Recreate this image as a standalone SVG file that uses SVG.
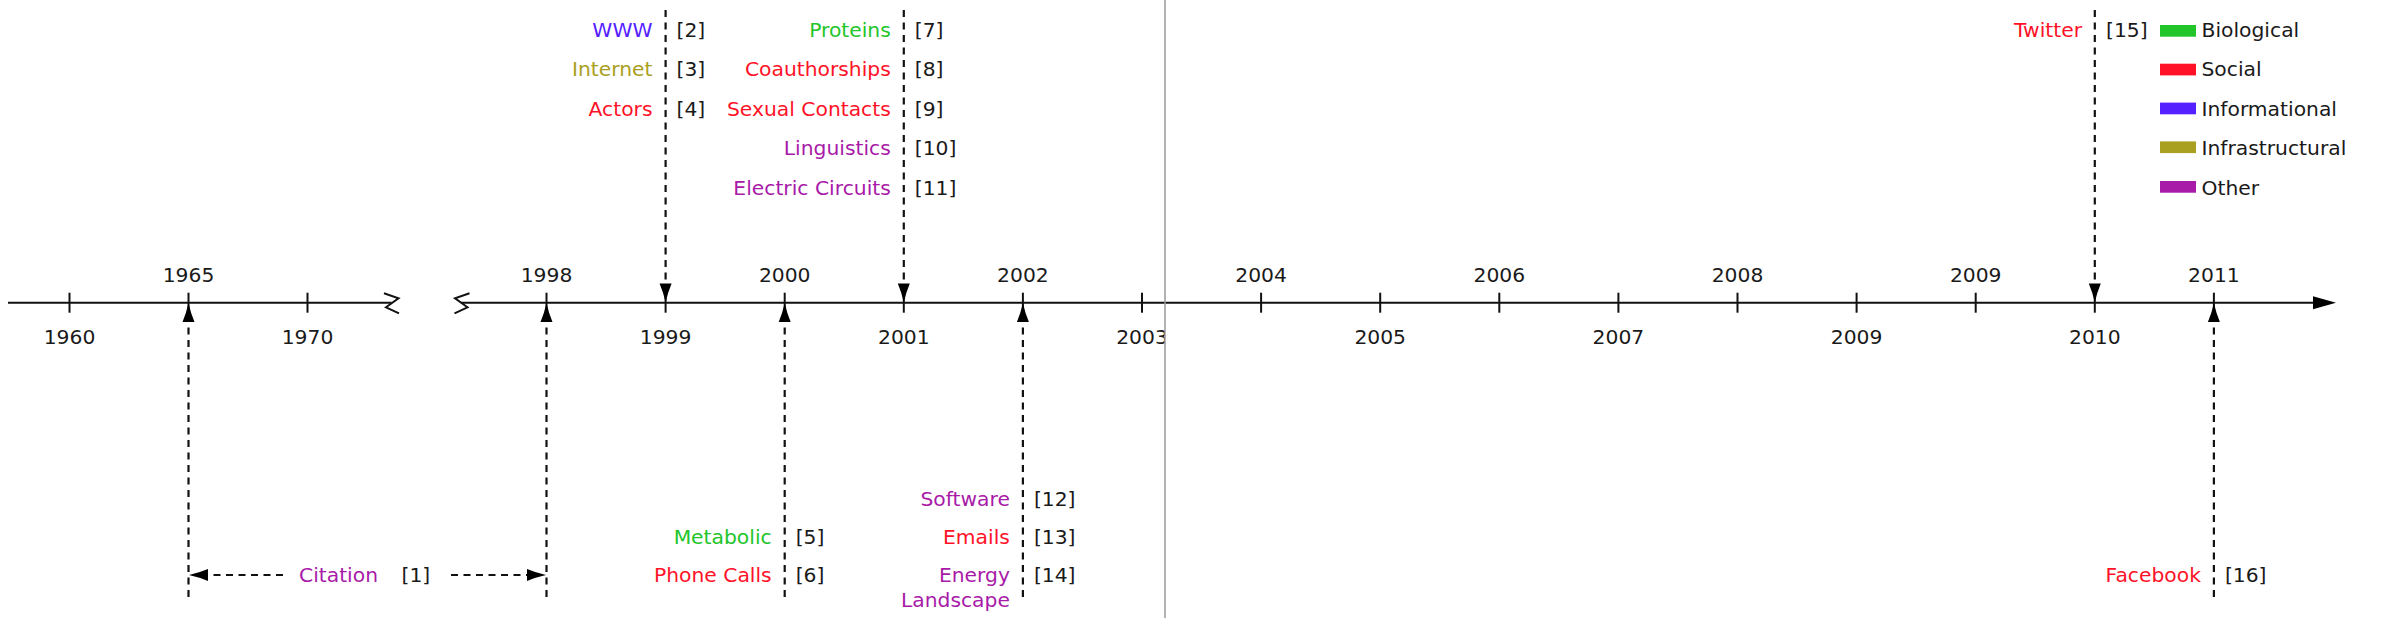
<svg xmlns="http://www.w3.org/2000/svg" width="2384" height="618" viewBox="0 0 2384 618">
<style>
text{font-family:"DejaVu Sans","Verdana",sans-serif;font-size:20.3px;fill:#1a1a1a}
.e{text-anchor:end}
.m{text-anchor:middle}
.bio{fill:#22c52a}
.soc{fill:#ff1228}
.inf{fill:#5522ff}
.str{fill:#a9a022}
.oth{fill:#a81aa8}
.axis{stroke:#111;stroke-width:2;fill:none}
.dash{stroke:#111;stroke-width:2.2;stroke-dasharray:7 5.5;fill:none;marker-end:url(#ah)}
</style>
<defs>
<marker id="ah" markerUnits="userSpaceOnUse" markerWidth="22" markerHeight="14" viewBox="0 -7 22 14" refX="0" refY="0" orient="auto" overflow="visible">
<path d="M0,-6 Q9,-2.2 19,0 Q9,2.2 0,6 Z" fill="#000" stroke="none"/>
</marker>
<clipPath id="clipL"><rect x="0" y="0" width="1165" height="618"/></clipPath>
</defs>
<rect width="2384" height="618" fill="#fff"/>

<g id="axis">
<line class="axis" x1="8" y1="302.7" x2="391.5" y2="302.7"/>
<polyline class="axis" points="384,293.3 398.5,298.3 386,307.3 399,313.3"/>
<polyline class="axis" points="469.5,293.3 455,298.3 467.5,307.3 454.5,313.3"/>
<line class="axis" x1="461" y1="302.7" x2="2315" y2="302.7"/>
<path d="M2336,302.7 L2313,296.2 L2313,309.2 Z" fill="#000"/>
<g class="axis">
<line x1="69.5" y1="292.7" x2="69.5" y2="312.7"/>
<line x1="188.5" y1="292.7" x2="188.5" y2="312.7"/>
<line x1="307.5" y1="292.7" x2="307.5" y2="312.7"/>
<line x1="546.5" y1="292.7" x2="546.5" y2="312.7"/>
<line x1="665.6" y1="292.7" x2="665.6" y2="312.7"/>
<line x1="784.7" y1="292.7" x2="784.7" y2="312.7"/>
<line x1="903.8" y1="292.7" x2="903.8" y2="312.7"/>
<line x1="1022.9" y1="292.7" x2="1022.9" y2="312.7"/>
<line x1="1142" y1="292.7" x2="1142" y2="312.7"/>
<line x1="1261.1" y1="292.7" x2="1261.1" y2="312.7"/>
<line x1="1380.2" y1="292.7" x2="1380.2" y2="312.7"/>
<line x1="1499.3" y1="292.7" x2="1499.3" y2="312.7"/>
<line x1="1618.4" y1="292.7" x2="1618.4" y2="312.7"/>
<line x1="1737.5" y1="292.7" x2="1737.5" y2="312.7"/>
<line x1="1856.6" y1="292.7" x2="1856.6" y2="312.7"/>
<line x1="1975.7" y1="292.7" x2="1975.7" y2="312.7"/>
<line x1="2094.8" y1="292.7" x2="2094.8" y2="312.7"/>
<line x1="2213.9" y1="292.7" x2="2213.9" y2="312.7"/>
</g>
<g class="years">
<text class="m" x="69.5" y="343.5">1960</text>
<text class="m" x="188.5" y="282">1965</text>
<text class="m" x="307.5" y="343.5">1970</text>
<text class="m" x="546.5" y="282">1998</text>
<text class="m" x="665.6" y="343.5">1999</text>
<text class="m" x="784.7" y="282">2000</text>
<text class="m" x="903.8" y="343.5">2001</text>
<text class="m" x="1022.9" y="282">2002</text>
<text class="m" x="1142" y="343.5" clip-path="url(#clipL)">2003</text>
<text class="m" x="1261.1" y="282">2004</text>
<text class="m" x="1380.2" y="343.5">2005</text>
<text class="m" x="1499.3" y="282">2006</text>
<text class="m" x="1618.4" y="343.5">2007</text>
<text class="m" x="1737.5" y="282">2008</text>
<text class="m" x="1856.6" y="343.5">2009</text>
<text class="m" x="1975.7" y="282">2009</text>
<text class="m" x="2094.8" y="343.5">2010</text>
<text class="m" x="2213.9" y="282">2011</text>
</g>
</g>

<line id="divider" x1="1165" y1="0" x2="1165" y2="618" stroke="#9a9a9a" stroke-width="1.5"/>

<g id="connectors">
<line class="dash" x1="665.6" y1="10" x2="665.6" y2="283.5"/>
<line class="dash" x1="903.8" y1="10" x2="903.8" y2="283.5"/>
<line class="dash" x1="2094.8" y1="10" x2="2094.8" y2="283.5"/>
<line class="dash" x1="188.5" y1="597" x2="188.5" y2="322"/>
<line class="dash" x1="546.5" y1="597" x2="546.5" y2="322"/>
<line class="dash" x1="784.7" y1="597" x2="784.7" y2="322"/>
<line class="dash" x1="1022.9" y1="597" x2="1022.9" y2="322"/>
<line class="dash" x1="2213.9" y1="597" x2="2213.9" y2="322"/>
<line class="dash" x1="283" y1="575" x2="208" y2="575"/>
<line class="dash" x1="451" y1="575" x2="527" y2="575"/>
</g>

<g id="event-citation">
<text class="m oth" x="338.5" y="582">Citation</text>
<text x="401.5" y="582">[1]</text>
</g>

<g id="event-1999">
<text class="e inf" x="652.5" y="36.5">WWW</text>
<text class="e str" x="652.5" y="76">Internet</text>
<text class="e soc" x="652.5" y="115.5">Actors</text>
<text x="676.5" y="36.5">[2]</text>
<text x="676.5" y="76">[3]</text>
<text x="676.5" y="115.5">[4]</text>
</g>

<g id="event-2001">
<text class="e bio" x="890.8" y="36.5">Proteins</text>
<text class="e soc" x="890.8" y="76">Coauthorships</text>
<text class="e soc" x="890.8" y="115.5">Sexual Contacts</text>
<text class="e oth" x="890.8" y="155">Linguistics</text>
<text class="e oth" x="890.8" y="194.5">Electric Circuits</text>
<text x="914.8" y="36.5">[7]</text>
<text x="914.8" y="76">[8]</text>
<text x="914.8" y="115.5">[9]</text>
<text x="914.8" y="155">[10]</text>
<text x="914.8" y="194.5">[11]</text>
</g>

<g id="event-2010">
<text class="e soc" x="2082" y="36.5">Twitter</text>
<text x="2106" y="36.5">[15]</text>
</g>

<g id="event-2000">
<text class="e bio" x="771.7" y="544">Metabolic</text>
<text class="e soc" x="771.7" y="582">Phone Calls</text>
<text x="795.7" y="544">[5]</text>
<text x="795.7" y="582">[6]</text>
</g>

<g id="event-2002">
<text class="e oth" x="1009.9" y="506">Software</text>
<text class="e soc" x="1009.9" y="544">Emails</text>
<text class="e oth" x="1009.9" y="582">Energy</text>
<text class="e oth" x="1009.9" y="606.5">Landscape</text>
<text x="1033.9" y="506">[12]</text>
<text x="1033.9" y="544">[13]</text>
<text x="1033.9" y="582">[14]</text>
</g>

<g id="event-2011">
<text class="e soc" x="2200.9" y="582">Facebook</text>
<text x="2224.9" y="582">[16]</text>
</g>

<g id="legend">
<rect class="bio" x="2160" y="25" width="36" height="11.7"/>
<rect class="soc" x="2160" y="63.7" width="36" height="11.7"/>
<rect class="inf" x="2160" y="102.6" width="36" height="11.7"/>
<rect class="str" x="2160" y="141.4" width="36" height="11.7"/>
<rect class="oth" x="2160" y="181" width="36" height="11.7"/>
<text x="2201.5" y="36.5">Biological</text>
<text x="2201.5" y="76">Social</text>
<text x="2201.5" y="115.5">Informational</text>
<text x="2201.5" y="155">Infrastructural</text>
<text x="2201.5" y="194.5">Other</text>
</g>
</svg>
